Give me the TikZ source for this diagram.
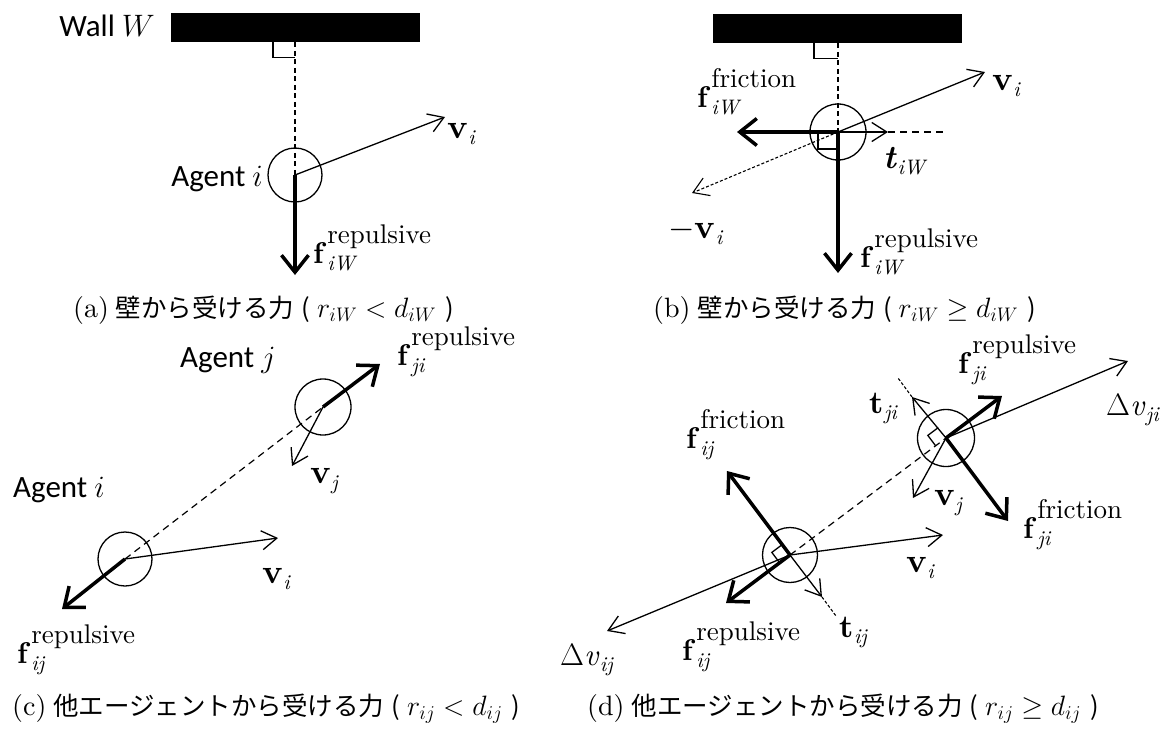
\documentclass[tikz,border=0pt]{standalone}
\usepackage{fix-cm}
\usepackage{amsmath}
\usepackage{fontspec}
\setmainfont{lmroman10-regular.otf}[BoldFont=lmroman10-bold.otf,ItalicFont=lmroman10-italic.otf,BoldItalicFont=lmroman10-bolditalic.otf]
\newfontfamily\carl{Carlito}
\newfontfamily\jpf{Noto Sans CJK JP}
\usetikzlibrary{arrows.meta,calc}
\newcommand\bsz{\fontsize{30}{30}\selectfont}
\newcommand\supsz{\fontsize{27}{27}\selectfont}
\newcommand\subsz{\fontsize{21}{21}\selectfont}
\newcommand\flab[3]{\mbox{\bsz\textbf{#1}\kern1pt\lower7pt\vbox{\baselineskip=27pt\lineskiplimit=-100pt\hbox{\supsz #3}\hbox{\subsz\textit{#2}}}}}
\newcommand\vlab[3][34]{\mbox{\fontsize{#1}{#1}\selectfont#2\kern0.5pt\lower6pt\hbox{\subsz\textit{#3}}}}
\newcommand\jpt[1]{{\jpf\fontsize{25.5}{25.5}\selectfont #1}}
\newcommand\capsz{\fontsize{28}{28}\selectfont}
\newcommand\txt[1]{{\carl\fontsize{31}{31}\selectfont #1}}
\newcommand\subcap[3]{\capsz(#1)\kern7pt\jpt{#2\kern7pt(}\kern7pt$#3$\kern9pt\jpt{)}}
\begin{document}
\begin{tikzpicture}[x=1pt,y=-1pt,
  thinl/.style={line width=1.3pt},
  varrow/.style={line width=1.3pt,-{Straight Barb[length=15pt,width=19pt]}},
  farrow/.style={line width=3.5pt,-{Straight Barb[length=17pt,width=27pt]}},
  agent/.style={circle,draw,line width=1.3pt,minimum size=#1,inner sep=0pt},
  agent/.default=54pt,
  wallbox/.style={fill=black,inner sep=0pt,minimum width=249pt,minimum height=29pt,anchor=north west},
  lbl/.style={inner sep=0pt,anchor=base west},
  lble/.style={inner sep=0pt,anchor=base east},
  perp/.style={line width=1.2pt,dash pattern=on 5pt off 3.5pt},
  link/.style={line width=1.2pt,dash pattern=on 7pt off 5pt},
  fine/.style={line width=1.1pt,dash pattern=on 3pt off 2pt},
]
\useasboundingbox (0,0) rectangle (1171,731);

% ---------------- (a)
\node[wallbox] (Wa) at (171,13) {};
\node[lble] (wallL) at (155,36) {\txt{Wall $W$}};
\node[agent] (Aa) at (295,175) {};
\coordinate (Pa) at (Aa.center |- Wa.south);
\draw[perp] (Pa) -- (Aa.center);
\draw[thinl] ($(Pa)+(-22,0)$) -- ++(0,15) -- ++(22,0);
\coordinate (va) at (445,117);
\draw[varrow] (Aa.center) -- (va);
\node[lbl] (vaL) at (447,138) {\vlab{\textbf{v}}{i}};
\node[lble] (agL) at (263,186) {\txt{Agent\kern7pt$i$}};
\coordinate (fa) at (295,275);
\draw[farrow] (Aa.center) -- (fa);
\node[lbl] (faL) at (313,263) {\flab{f}{iW}{repulsive}};
\node[lbl] (capA) at (73,317) {\subcap{a}{壁から受ける力}{r_{iW}<d_{iW}}};

% ---------------- (b)
\node[wallbox] (Wb) at (713,14) {};
\node[agent=56pt] (Ab) at (838,132) {};
\coordinate (Pb) at (Ab.center |- Wb.south);
\draw[perp] (Pb) -- (Ab.center);
\draw[thinl] ($(Pb)+(-24,0)$) -- ++(0,15) -- ++(24,0);
\coordinate (vb) at (985,72);
\coordinate (mvb) at (692,193);
\coordinate (tb) at (888,132);
\coordinate (tbe) at (945,132);
\coordinate (frb) at (737,132);
\coordinate (rpb) at (838,273);
\draw[varrow] (Ab.center) -- (vb);
\draw[fine,-{Straight Barb[length=15pt,width=19pt]}] (Ab.center) -- (mvb);
\draw[varrow] (Ab.center) -- (tb);
\draw[link] (tb) -- (tbe);
\draw[farrow] (Ab.center) -- (frb);
\draw[farrow] (Ab.center) -- (rpb);
\draw[thinl] ($(Ab.center)+(-20,0)$) -- ++(0,17) -- ++(20,0);
\node[lbl] (vbL) at (992,90) {\vlab{\textbf{v}}{i}};
\node[lbl] (mvbL) at (668,238) {\vlab{$-$\textbf{v}}{i}};
\node[lbl] (tbL) at (883,168) {\vlab[33]{\textbf{\textit{t}}}{iW}};
\node[lbl] (frbL) at (697,107) {\flab{f}{iW}{friction}};
\node[lbl] (rpbL) at (860,267) {\flab{f}{iW}{repulsive}};
\node[lbl] (capB) at (653,317) {\subcap{b}{壁から受ける力}{r_{iW}\geq d_{iW}}};

% ---------------- (c)
\node[agent=56pt] (Jc) at (323,407) {};
\node[agent] (Ic) at (125,559) {};
\draw[link] (Ic.center) -- (Jc.center);
\coordinate (fjc) at (380,364);
\coordinate (vjc) at (292,466);
\coordinate (vic) at (278,538);
\coordinate (fic) at (62,609);
\draw[farrow] (Jc.center) -- (fjc);
\draw[varrow] (Jc.center) -- (vjc);
\draw[varrow] (Ic.center) -- (vic);
\draw[farrow] (Ic.center) -- (fic);
\node[lbl] (fjcL) at (397,365) {\flab{f}{ji}{repulsive}};
\node[lbl] (vjcL) at (310,483) {\vlab{\textbf{v}}{j}};
\node[lbl] (vicL) at (262,583) {\vlab{\textbf{v}}{i}};
\node[lbl] (ficL) at (17,663) {\flab{f}{ij}{repulsive}};
\node[lbl] (agjL) at (180,367) {\txt{Agent\kern7pt$j$}};
\node[lbl] (agiL) at (13,497) {\txt{Agent\kern7pt$i$}};
\node[lbl] (capC) at (12,715) {\subcap{c}{他エージェントから受ける力}{r_{ij}<d_{ij}}};

% ---------------- (d)
\node[agent=55pt] (Id) at (790,555) {};
\node[agent=57pt] (Jd) at (946,438) {};
\draw[link] (Id.center) -- (Jd.center);
% agent i
\coordinate (tid) at (822,597);
\coordinate (tide) at (836,616);
\coordinate (frid) at (727,471);
\coordinate (rpid) at (726,603);
\coordinate (dvid) at (607,631);
\coordinate (vid) at (943,535);
\draw[varrow] (Id.center) -- (tid);
\draw[fine] (tid) -- (tide);
\draw[varrow] (Id.center) -- (dvid);
\draw[varrow] (Id.center) -- (vid);
\draw[farrow] (Id.center) -- (frid);
\draw[farrow] (Id.center) -- (rpid);
\draw[thinl] ($(Id.center)+(-7.8,-10.4)$) -- ++(-10.4,7.8) -- ++(7.8,10.4);
% agent j
\coordinate (tjd) at (912,397);
\coordinate (tjde) at (898,378);
\coordinate (frjd) at (1008,521);
\coordinate (rpjd) at (1002,396);
\coordinate (dvjd) at (1128,361);
\coordinate (vjd) at (913,498);
\draw[varrow] (Jd.center) -- (tjd);
\draw[fine] (tjd) -- (tjde);
\draw[varrow] (Jd.center) -- (dvjd);
\draw[varrow] (Jd.center) -- (vjd);
\draw[farrow] (Jd.center) -- (rpjd);
\draw[farrow] (Jd.center) -- (frjd);
\draw[thinl] ($(Jd.center)+(-7.8,-10.4)$) -- ++(-10.4,7.8) -- ++(7.8,10.4);
% labels
\node[lbl] (fridL) at (686,448) {\flab{f}{ij}{friction}};
\node[lbl] (rpidL) at (682,660) {\flab{f}{ij}{repulsive}};
\node[lbl] (dvidL) at (560,665) {\vlab[31]{$\Delta$\textit{v}}{ij}};
\node[lbl] (tidL) at (839,637) {\vlab[32]{\textbf{t}}{ij}};
\node[lbl] (vidL) at (906,572) {\vlab{\textbf{v}}{i}};
\node[lbl] (rpjdL) at (958,373) {\flab{f}{ji}{repulsive}};
\node[lbl] (dvjdL) at (1106,415) {\vlab[31]{$\Delta$\textit{v}}{ji}};
\node[lbl] (tjdL) at (869,413) {\vlab[32]{\textbf{t}}{ji}};
\node[lbl] (vjdL) at (934,505) {\vlab{\textbf{v}}{j}};
\node[lbl] (frjdL) at (1023,538) {\flab{f}{ji}{friction}};
\node[lbl] (capD) at (587,715) {\subcap{d}{他エージェントから受ける力}{r_{ij}\geq d_{ij}}};
\end{tikzpicture}
\end{document}
